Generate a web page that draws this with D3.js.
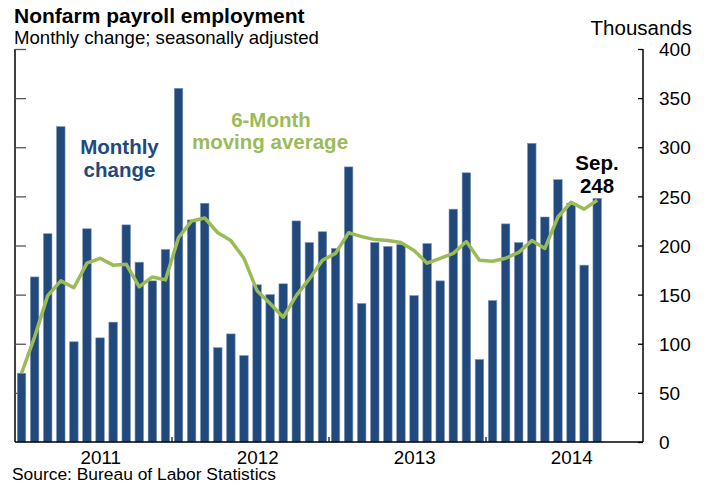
<!DOCTYPE html>
<html>
<head>
<meta charset="utf-8">
<script src="https://cdn.jsdelivr.net/npm/d3@7"></script>
<style>
  html, body { margin: 0; padding: 0; background: #ffffff; }
  svg { display: block; font-family: Arial, "Liberation Sans", Helvetica, sans-serif; }
</style>
</head>
<body>
<svg id="chart" width="712" height="487"></svg>
<script>
// ---- data ----
const months = [
  "Jan 2011","Feb 2011","Mar 2011","Apr 2011","May 2011","Jun 2011","Jul 2011","Aug 2011","Sep 2011","Oct 2011","Nov 2011","Dec 2011",
  "Jan 2012","Feb 2012","Mar 2012","Apr 2012","May 2012","Jun 2012","Jul 2012","Aug 2012","Sep 2012","Oct 2012","Nov 2012","Dec 2012",
  "Jan 2013","Feb 2013","Mar 2013","Apr 2013","May 2013","Jun 2013","Jul 2013","Aug 2013","Sep 2013","Oct 2013","Nov 2013","Dec 2013",
  "Jan 2014","Feb 2014","Mar 2014","Apr 2014","May 2014","Jun 2014","Jul 2014","Aug 2014","Sep 2014","Oct 2014","Nov 2014","Dec 2014"
];
const monthlyChange = [
  70,168,212,321,102,217,106,122,221,183,164,196,
  360,226,243,96,110,88,160,150,161,225,203,214,
  197,280,141,203,199,201,149,202,164,237,274,84,
  144,222,203,304,229,267,243,180,248
];
const movingAverage = [
  70,107,149,164,157,182,187,180,181,158,168,165,
  208,225,228,213,205,187,154,141,127,149,166,185,
  192,213,209,206,205,203,195,182,187,192,204,185,
  184,187,193,205,197,229,244,237,246
];
const yearLabels = ["2011","2012","2013","2014"];
const yTicks = [0,50,100,150,200,250,300,350,400];

// ---- layout ----
const svg = d3.select("#chart");
const mLeft = 15, mRight = 643, mTop = 49, mBottom = 442;
const barColor = "#21497c", lineColor = "#9bbb59";

const x = d3.scaleBand().domain(d3.range(months.length)).range([mLeft, mRight])
  .paddingInner(0.35).paddingOuter(0.175);
const step = x.step();
const xPos = i => mLeft + step * i;          // month boundary position
const y = d3.scaleLinear().domain([0, 400]).range([mBottom, mTop]);

// left axis (inner ticks, no labels)
const leftAxis = svg.append("g").attr("transform", `translate(${mLeft},0)`)
  .call(d3.axisRight(y).tickValues(yTicks.filter(v => v > 0)).tickSize(11).tickFormat(""));
leftAxis.select(".domain").attr("d", `M0,${mTop}V${mBottom}`).attr("stroke", "#000").attr("stroke-width", 1.5);
leftAxis.selectAll(".tick line").attr("stroke", "#555").attr("stroke-width", 1.3);

// right axis
const rightAxis = svg.append("g").attr("transform", `translate(${mRight},0)`)
  .call(d3.axisLeft(y).tickValues(yTicks).tickSize(5).tickFormat(d3.format("d")));
rightAxis.select(".domain").attr("d", `M0,${mTop}V${mBottom}`).attr("stroke", "#000").attr("stroke-width", 1.5);
rightAxis.selectAll(".tick line").attr("stroke", "#000").attr("stroke-width", 1.3);
rightAxis.selectAll(".tick text")
  .attr("x", 16).attr("text-anchor", "start").attr("dy", "0.35em")
  .attr("font-size", "19px").attr("fill", "#000")
  .attr("font-family", "Arial, 'Liberation Sans', sans-serif");

// bars
svg.append("g").selectAll("rect").data(monthlyChange).join("rect")
  .attr("x", (d, i) => x(i))
  .attr("width", x.bandwidth())
  .attr("y", d => y(d))
  .attr("height", d => y(0) - y(d))
  .attr("fill", barColor)
  .attr("stroke", "#7d96b8")
  .attr("stroke-width", 0.6);

// bottom axis
svg.append("line").attr("x1", mLeft).attr("x2", mRight).attr("y1", mBottom).attr("y2", mBottom)
  .attr("stroke", "#000").attr("stroke-width", 1.5);
svg.append("g").selectAll("line").data([12, 24, 36]).join("line")
  .attr("x1", d => xPos(d)).attr("x2", d => xPos(d))
  .attr("y1", mBottom).attr("y2", mBottom - 5)
  .attr("stroke", "#000").attr("stroke-width", 1.2);
svg.append("g").selectAll("text").data(yearLabels).join("text")
  .attr("x", (d, i) => xPos(12 * i + 6.55))
  .attr("y", 463.5)
  .attr("text-anchor", "middle")
  .attr("font-size", "18.8px")
  .attr("fill", "#000")
  .text(d => d);

// moving average line
const line = d3.line().x((d, i) => x(i) + x.bandwidth() / 2).y(d => y(d));
svg.append("path").datum(movingAverage)
  .attr("d", line)
  .attr("fill", "none")
  .attr("stroke", lineColor)
  .attr("stroke-width", 3.5)
  .attr("stroke-linejoin", "round");

// annotations
const ann = svg.append("g").attr("font-weight", "bold").attr("text-anchor", "middle").attr("font-size", "20.5px");
ann.append("text").attr("x", 119.5).attr("y", 154).attr("fill", barColor).text("Monthly");
ann.append("text").attr("x", 119.5).attr("y", 177).attr("fill", barColor).text("change");
ann.append("text").attr("x", 271).attr("y", 126.5).attr("fill", lineColor).text("6-Month");
ann.append("text").attr("x", 270).attr("y", 149).attr("fill", lineColor).text("moving average");
ann.append("text").attr("x", 597).attr("y", 170).attr("fill", "#000").text("Sep.");
ann.append("text").attr("x", 597).attr("y", 192.5).attr("fill", "#000").text(String(monthlyChange[monthlyChange.length - 1]));

// titles
svg.append("text").attr("x", 14).attr("y", 23.3).attr("font-weight", "bold").attr("font-size", "21px")
  .attr("fill", "#000").text("Nonfarm payroll employment");
svg.append("text").attr("x", 14).attr("y", 44.3).attr("font-size", "18.6px")
  .attr("fill", "#000").text("Monthly change; seasonally adjusted");
svg.append("text").attr("x", 692).attr("y", 35).attr("text-anchor", "end").attr("font-size", "20.5px")
  .attr("fill", "#000").text("Thousands");
svg.append("text").attr("x", 12).attr("y", 480).attr("font-size", "17.4px")
  .attr("fill", "#000").text("Source: Bureau of Labor Statistics");
</script>
</body>
</html>
